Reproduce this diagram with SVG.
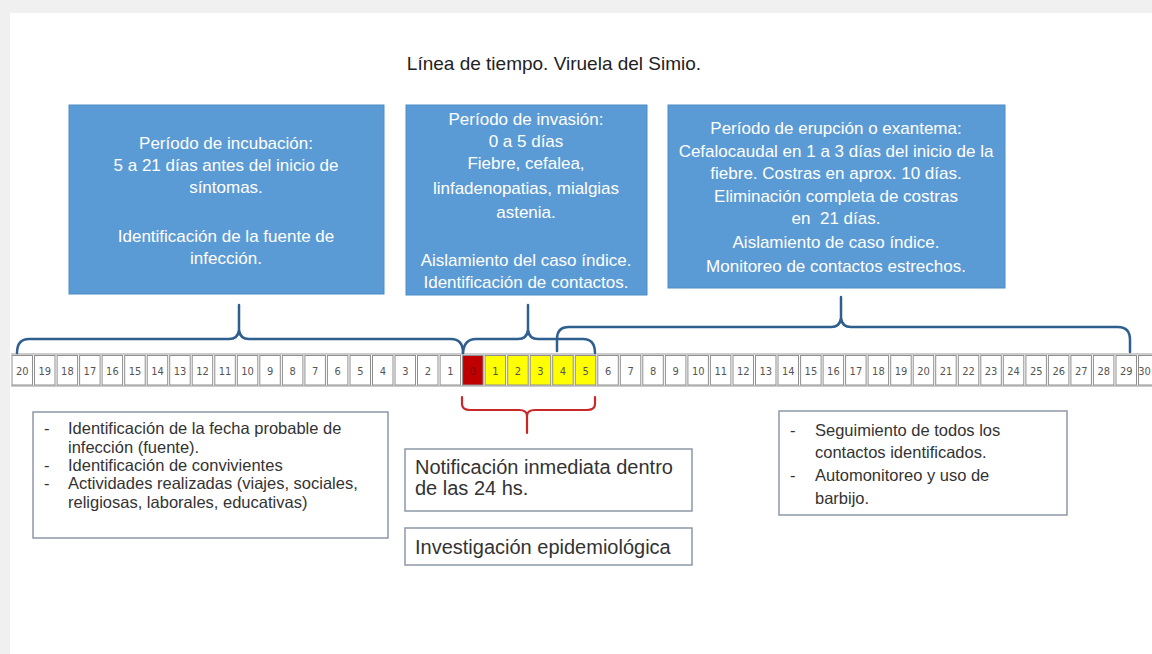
<svg xmlns="http://www.w3.org/2000/svg" width="1152" height="654" viewBox="0 0 1152 654">
<style>
.bt{font-family:"Liberation Sans",Arial,sans-serif;font-size:17px;fill:#ffffff;text-anchor:middle}
.bx{fill:#5b9bd5;stroke:#4f8cc4;stroke-width:1}
.wb{fill:#ffffff;stroke:#8d99a6;stroke-width:1.5}
.wt{font-family:"Liberation Sans",Arial,sans-serif;font-size:16.5px;fill:#333333}
.wt2{font-family:"Liberation Sans",Arial,sans-serif;font-size:20px;fill:#333333}
.c{fill:#ffffff;stroke:#8f8f8f;stroke-width:1}
.r{fill:#c00000;stroke:#8f8f8f;stroke-width:1}
.y{fill:#ffff00;stroke:#8f8f8f;stroke-width:1}
.n{font-family:"DejaVu Sans Condensed","Liberation Sans Narrow","Liberation Sans",sans-serif;font-size:11px;fill:#555555;text-anchor:middle}
.bb{fill:none;stroke:#2f5f8f;stroke-width:2.5;stroke-linecap:round;stroke-linejoin:round}
.rb{fill:none;stroke:#c82828;stroke-width:2.2;stroke-linecap:round;stroke-linejoin:round}
</style>
<rect x="0" y="0" width="1152" height="654" fill="#f0f0f0"/>
<rect x="10" y="13" width="1142" height="641" fill="#ffffff"/>
<text x="554" y="70" font-family="Liberation Sans,Arial,sans-serif" font-size="19" fill="#222222" text-anchor="middle">Línea de tiempo. Viruela del Simio.</text>

<g id="incubacion">
<rect class="bx" x="69" y="105" width="315" height="189"/>
<text class="bt" x="226" y="149">Período de incubación:</text>
<text class="bt" x="226" y="171">5 a 21 días antes del inicio de</text>
<text class="bt" x="226" y="193">síntomas.</text>
<text class="bt" x="226" y="242">Identificación de la fuente de</text>
<text class="bt" x="226" y="264">infección.</text>
</g>

<g id="invasion">
<rect class="bx" x="406" y="105" width="241" height="190"/>
<text class="bt" x="526" y="125">Período de invasión:</text>
<text class="bt" x="526" y="147">0 a 5 días</text>
<text class="bt" x="526" y="169">Fiebre, cefalea,</text>
<text class="bt" x="526" y="194">linfadenopatias, mialgias</text>
<text class="bt" x="526" y="218">astenia.</text>
<text class="bt" x="526" y="266">Aislamiento del caso índice.</text>
<text class="bt" x="526" y="288">Identificación de contactos.</text>
</g>

<g id="erupcion">
<rect class="bx" x="668" y="105" width="337" height="183"/>
<text class="bt" x="836" y="134">Período de erupción o exantema:</text>
<text class="bt" x="836" y="157">Cefalocaudal en 1 a 3 días del inicio de la</text>
<text class="bt" x="836" y="179">fiebre. Costras en aprox. 10 días.</text>
<text class="bt" x="836" y="202">Eliminación completa de costras</text>
<text class="bt" x="836" y="224" xml:space="preserve">en  21 días.</text>
<text class="bt" x="836" y="248">Aislamiento de caso índice.</text>
<text class="bt" x="836" y="272">Monitoreo de contactos estrechos.</text>
</g>

<g id="timeline">
<line x1="11" y1="354" x2="1152" y2="354" stroke="#999999" stroke-width="1"/>
<line x1="11" y1="386" x2="1152" y2="386" stroke="#999999" stroke-width="1"/>
<rect class="c" x="12.0" y="355.5" width="20.5" height="29.5"/><text class="n" x="22.3" y="375">20</text>
<rect class="c" x="34.5" y="355.5" width="20.5" height="29.5"/><text class="n" x="44.8" y="375">19</text>
<rect class="c" x="57.1" y="355.5" width="20.5" height="29.5"/><text class="n" x="67.4" y="375">18</text>
<rect class="c" x="79.6" y="355.5" width="20.5" height="29.5"/><text class="n" x="89.9" y="375">17</text>
<rect class="c" x="102.1" y="355.5" width="20.5" height="29.5"/><text class="n" x="112.4" y="375">16</text>
<rect class="c" x="124.7" y="355.5" width="20.5" height="29.5"/><text class="n" x="135.0" y="375">15</text>
<rect class="c" x="147.2" y="355.5" width="20.5" height="29.5"/><text class="n" x="157.5" y="375">14</text>
<rect class="c" x="169.7" y="355.5" width="20.5" height="29.5"/><text class="n" x="180.0" y="375">13</text>
<rect class="c" x="192.2" y="355.5" width="20.5" height="29.5"/><text class="n" x="202.5" y="375">12</text>
<rect class="c" x="214.8" y="355.5" width="20.5" height="29.5"/><text class="n" x="225.1" y="375">11</text>
<rect class="c" x="237.3" y="355.5" width="20.5" height="29.5"/><text class="n" x="247.6" y="375">10</text>
<rect class="c" x="259.8" y="355.5" width="20.5" height="29.5"/><text class="n" x="270.1" y="375">9</text>
<rect class="c" x="282.4" y="355.5" width="20.5" height="29.5"/><text class="n" x="292.7" y="375">8</text>
<rect class="c" x="304.9" y="355.5" width="20.5" height="29.5"/><text class="n" x="315.2" y="375">7</text>
<rect class="c" x="327.4" y="355.5" width="20.5" height="29.5"/><text class="n" x="337.7" y="375">6</text>
<rect class="c" x="350.0" y="355.5" width="20.5" height="29.5"/><text class="n" x="360.3" y="375">5</text>
<rect class="c" x="372.5" y="355.5" width="20.5" height="29.5"/><text class="n" x="382.8" y="375">4</text>
<rect class="c" x="395.0" y="355.5" width="20.5" height="29.5"/><text class="n" x="405.3" y="375">3</text>
<rect class="c" x="417.5" y="355.5" width="20.5" height="29.5"/><text class="n" x="427.8" y="375">2</text>
<rect class="c" x="440.1" y="355.5" width="20.5" height="29.5"/><text class="n" x="450.4" y="375">1</text>
<rect class="r" x="462.6" y="355.5" width="20.5" height="29.5"/><text class="n" x="472.9" y="375" style="fill:#7a0000">0</text>
<rect class="y" x="485.1" y="355.5" width="20.5" height="29.5"/><text class="n" x="495.4" y="375">1</text>
<rect class="y" x="507.7" y="355.5" width="20.5" height="29.5"/><text class="n" x="518.0" y="375">2</text>
<rect class="y" x="530.2" y="355.5" width="20.5" height="29.5"/><text class="n" x="540.5" y="375">3</text>
<rect class="y" x="552.7" y="355.5" width="20.5" height="29.5"/><text class="n" x="563.0" y="375">4</text>
<rect class="y" x="575.3" y="355.5" width="20.5" height="29.5"/><text class="n" x="585.6" y="375">5</text>
<rect class="c" x="597.8" y="355.5" width="20.5" height="29.5"/><text class="n" x="608.1" y="375">6</text>
<rect class="c" x="620.3" y="355.5" width="20.5" height="29.5"/><text class="n" x="630.6" y="375">7</text>
<rect class="c" x="642.8" y="355.5" width="20.5" height="29.5"/><text class="n" x="653.1" y="375">8</text>
<rect class="c" x="665.4" y="355.5" width="20.5" height="29.5"/><text class="n" x="675.7" y="375">9</text>
<rect class="c" x="687.9" y="355.5" width="20.5" height="29.5"/><text class="n" x="698.2" y="375">10</text>
<rect class="c" x="710.4" y="355.5" width="20.5" height="29.5"/><text class="n" x="720.7" y="375">11</text>
<rect class="c" x="733.0" y="355.5" width="20.5" height="29.5"/><text class="n" x="743.3" y="375">12</text>
<rect class="c" x="755.5" y="355.5" width="20.5" height="29.5"/><text class="n" x="765.8" y="375">13</text>
<rect class="c" x="778.0" y="355.5" width="20.5" height="29.5"/><text class="n" x="788.3" y="375">14</text>
<rect class="c" x="800.6" y="355.5" width="20.5" height="29.5"/><text class="n" x="810.9" y="375">15</text>
<rect class="c" x="823.1" y="355.5" width="20.5" height="29.5"/><text class="n" x="833.4" y="375">16</text>
<rect class="c" x="845.6" y="355.5" width="20.5" height="29.5"/><text class="n" x="855.9" y="375">17</text>
<rect class="c" x="868.1" y="355.5" width="20.5" height="29.5"/><text class="n" x="878.4" y="375">18</text>
<rect class="c" x="890.7" y="355.5" width="20.5" height="29.5"/><text class="n" x="901.0" y="375">19</text>
<rect class="c" x="913.2" y="355.5" width="20.5" height="29.5"/><text class="n" x="923.5" y="375">20</text>
<rect class="c" x="935.7" y="355.5" width="20.5" height="29.5"/><text class="n" x="946.0" y="375">21</text>
<rect class="c" x="958.3" y="355.5" width="20.5" height="29.5"/><text class="n" x="968.6" y="375">22</text>
<rect class="c" x="980.8" y="355.5" width="20.5" height="29.5"/><text class="n" x="991.1" y="375">23</text>
<rect class="c" x="1003.3" y="355.5" width="20.5" height="29.5"/><text class="n" x="1013.6" y="375">24</text>
<rect class="c" x="1025.9" y="355.5" width="20.5" height="29.5"/><text class="n" x="1036.2" y="375">25</text>
<rect class="c" x="1048.4" y="355.5" width="20.5" height="29.5"/><text class="n" x="1058.7" y="375">26</text>
<rect class="c" x="1070.9" y="355.5" width="20.5" height="29.5"/><text class="n" x="1081.2" y="375">27</text>
<rect class="c" x="1093.4" y="355.5" width="20.5" height="29.5"/><text class="n" x="1103.7" y="375">28</text>
<rect class="c" x="1116.0" y="355.5" width="20.5" height="29.5"/><text class="n" x="1126.3" y="375">29</text>
<rect class="c" x="1138.5" y="355.5" width="20.5" height="29.5"/><text class="n" x="1144.5" y="375">30</text>
</g>

<g id="connectors">
<path class="bb" d="M17,353 Q17,339 29,339 H229 Q238,339 239,330 V305 M239,330 Q240,339 249,339 H451 Q463,339 463,353"/>
<path class="bb" d="M463,353 Q464,339 476,339 H518 Q527,339 528,330 V305 M528,330 Q529,339 538,339 H583 Q595,339 595,353"/>
<path class="bb" d="M557,351 V339 Q557,327 569,327 H831 Q840,327 841,318 V297 M841,318 Q842,327 851,327 H1118 Q1130,327 1130,340 V352"/>
<path class="rb" d="M462,397 V404 Q462,410 470,410 H519 Q527,410 527,416 V433 M527,416 Q527,410 535,410 H587 Q595,410 595,404 V397"/>
</g>

<g id="acciones-incubacion">
<rect class="wb" x="33" y="412" width="355" height="126"/>
<text class="wt" x="44" y="434">-</text><text class="wt" x="68" y="434">Identificación de la fecha probable de</text>
<text class="wt" x="68" y="453">infección (fuente).</text>
<text class="wt" x="44" y="471">-</text><text class="wt" x="68" y="471">Identificación de convivientes</text>
<text class="wt" x="44" y="489">-</text><text class="wt" x="68" y="489">Actividades realizadas (viajes, sociales,</text>
<text class="wt" x="68" y="508">religiosas, laborales, educativas)</text>
</g>

<g id="notificacion">
<rect class="wb" x="405" y="449" width="287" height="62"/>
<text class="wt2" x="415" y="474">Notificación inmediata dentro</text>
<text class="wt2" x="415" y="495">de las 24 hs.</text>
</g>

<g id="investigacion">
<rect class="wb" x="405" y="528" width="287" height="37"/>
<text class="wt2" x="415" y="554">Investigación epidemiológica</text>
</g>

<g id="acciones-erupcion">
<rect class="wb" x="779" y="411" width="288" height="104"/>
<text class="wt" x="790" y="436">-</text><text class="wt" x="815" y="436">Seguimiento de todos los</text>
<text class="wt" x="815" y="458">contactos identificados.</text>
<text class="wt" x="790" y="481">-</text><text class="wt" x="815" y="481">Automonitoreo y uso de</text>
<text class="wt" x="815" y="504">barbijo.</text>
</g>
</svg>
